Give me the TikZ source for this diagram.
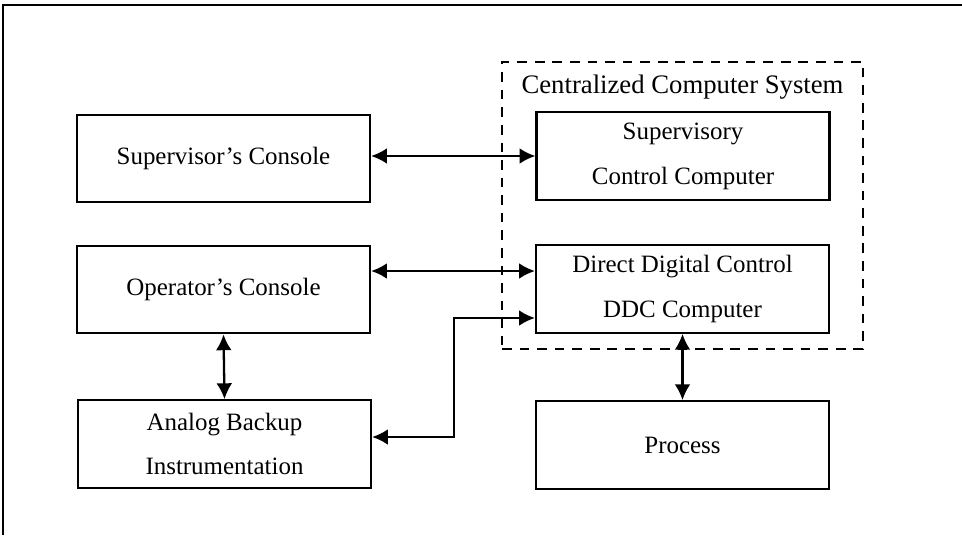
\documentclass[tikz,border=0pt]{standalone}
\usepackage{fontspec}
\setmainfont{Liberation Serif}
\usetikzlibrary{positioning, calc, arrows.meta}

\begin{document}
\begin{tikzpicture}[
    x=0.02cm, y=-0.02cm,
    % Block styles
    block/.style={
      rectangle, draw=black, line width=1.3pt,
      minimum width=5.86cm, minimum height=1.75cm,
      font=\fontsize{14.2}{25.5}\selectfont, align=center
    },
    sysbox/.style={
      rectangle, draw=black, line width=1.6pt,
      dash pattern=on 5.5pt off 4.5pt,
      minimum width=7.22cm, minimum height=5.74cm
    },
    link/.style={draw=black, line width=1.3pt,
      {Latex[length=9pt,width=9pt]}-{Latex[length=9pt,width=9pt]}},
    frame/.style={draw=black, line width=1.4pt},
  ]
  \useasboundingbox (0,0) rectangle (962,535);

  % === Outer frame (top and left only) ===
  \draw[frame] (3,535) -- (3,5) -- (962,5);

  % === Centralized system ===
  \node[sysbox] (csys) at (682.5,205.5) {};
  \node[font=\fontsize{15.2}{17}\selectfont, below=0.16cm of csys.north] (csyslbl) {Centralized Computer System};

  \node[block] (scc) at (683,156) {Supervisory\\Control Computer};
  \node[block] (ddc) at (682.5,289) {Direct Digital Control\\DDC Computer};
  \node[block] (proc) at (682.5,445) {Process};

  % === Consoles ===
  \node[block] (sup) at (223.5,158.5) {Supervisor's Console};
  \node[block] (opc) at (223.5,289.5) {Operator's Console};
  \node[block] (abi) at (224.5,444) {Analog Backup\\Instrumentation};

  % Connectors
  \draw[link] (sup.east |- scc.west) -- (scc.west);
  \draw[link] ([yshift=0.37cm]opc.east) -- ([yshift=0.37cm]opc.east -| ddc.west);
  \draw[link] ([yshift=-0.58cm]ddc.west) -- ++(-81,0) |- ([yshift=0.14cm]abi.east);
  \draw[link] (opc.south) -- (abi.north);
  \draw[link] (ddc.south) -- (proc.north);

\end{tikzpicture}
\end{document}
